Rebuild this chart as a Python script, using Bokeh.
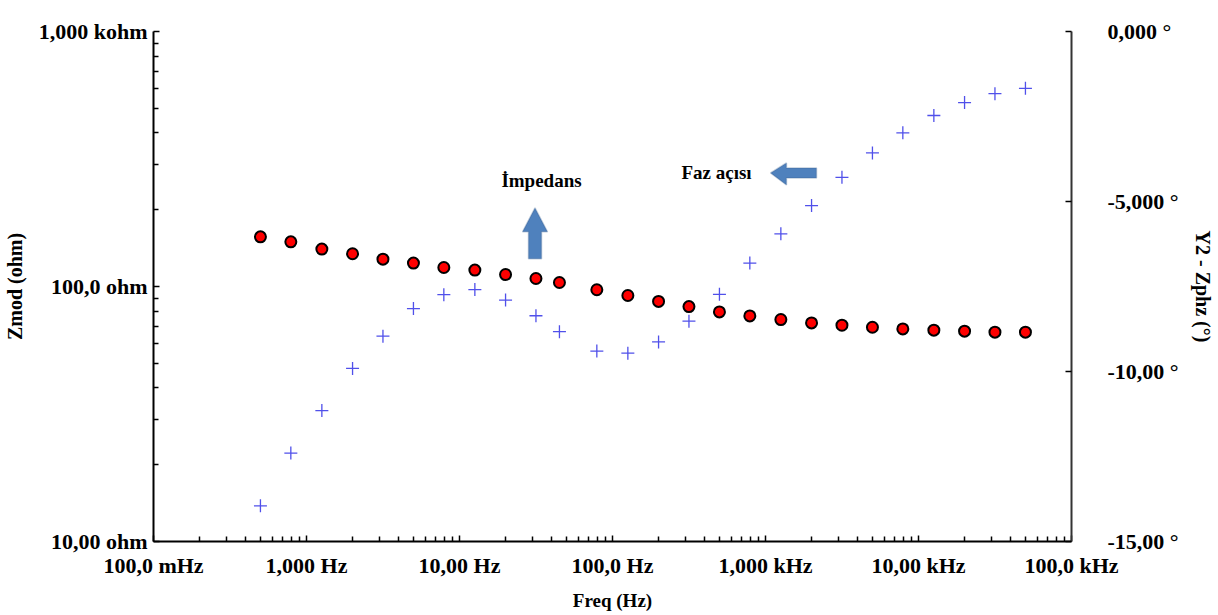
from bokeh.plotting import figure
from bokeh.models import (Range1d, LinearScale, LinearAxis, FixedTicker, Label,
                          PolyAnnotation)
from bokeh.embed import file_html
from bokeh.resources import INLINE

# ---------------- data ----------------
freq_hz = [0.5, 0.79, 1.26, 2.0, 3.16, 5.0, 7.9, 12.6, 20.0, 31.6, 45.0,
           79.0, 126.0, 200.0, 316.0, 500.0, 790.0, 1260.0, 2000.0, 3160.0,
           5000.0, 7900.0, 12600.0, 20000.0, 31600.0, 50000.0]
zmod_ohm = [156.6, 149.7, 140.2, 134.4, 128.0, 123.5, 118.7, 116.0, 111.4,
            107.5, 103.7, 97.1, 92.2, 87.4, 83.4, 79.5, 76.7, 74.2, 72.0,
            70.5, 69.2, 68.2, 67.4, 66.8, 66.2, 66.2]
zphz_deg = [-13.95, -12.40, -11.15, -9.91, -8.96, -8.15, -7.74, -7.59, -7.90,
            -8.36, -8.83, -9.40, -9.46, -9.13, -8.52, -7.73, -6.81, -5.95,
            -5.12, -4.29, -3.57, -2.98, -2.47, -2.09, -1.83, -1.67]

x_ticks = [0.1, 1.0, 10.0, 100.0, 1000.0, 10000.0, 100000.0]
x_tick_labels = ["100,0 mHz", "1,000 Hz", "10,00 Hz", "100,0 Hz",
                 "1,000 kHz", "10,00 kHz", "100,0 kHz"]
y_ticks = [10.0, 100.0, 1000.0]
y_tick_labels = ["10,00 ohm", "100,0 ohm", "1,000 kohm"]
y2_ticks = [-15.0, -10.0, -5.0, 0.0]
y2_tick_labels = ["-15,00 °", "-10,00 °", "-5,000 °", "0,000 °"]

x_minor = [m * d for d in x_ticks[:-1] for m in range(2, 10)]
y_minor = [m * d for d in y_ticks[:-1] for m in range(2, 10)]

FONT = "Liberation Serif"

p = figure(width=1216, height=613, x_axis_type="log", y_axis_type="log",
           x_range=Range1d(0.1, 100000.0), y_range=Range1d(10.0, 1000.0),
           output_backend="svg", toolbar_location=None,
           min_border_left=153, min_border_right=145,
           min_border_top=31, min_border_bottom=70)
p.outline_line_color = None
p.xgrid.visible = False
p.ygrid.visible = False
p.background_fill_color = "white"
p.border_fill_color = "white"

p.extra_y_ranges = {"phase": Range1d(-15.0, 0.0)}
p.extra_y_scales = {"phase": LinearScale()}


def style_axis(ax):
    ax.axis_line_color = "black"
    ax.axis_line_width = 2
    ax.major_tick_line_color = "black"
    ax.minor_tick_line_color = "black"
    ax.major_tick_line_width = 1.5
    ax.minor_tick_line_width = 1.5
    ax.major_tick_in = 6
    ax.major_tick_out = 0
    ax.minor_tick_in = 5
    ax.minor_tick_out = 0
    ax.major_label_text_font = FONT
    ax.major_label_text_font_style = "bold"
    ax.major_label_text_font_size = "22px"
    ax.major_label_text_color = "black"
    ax.axis_label_text_font = FONT
    ax.axis_label_text_font_style = "bold"
    ax.axis_label_text_color = "black"


# bottom axis
xa = p.xaxis[0]
style_axis(xa)
xa.ticker = FixedTicker(ticks=x_ticks, minor_ticks=x_minor)
xa.major_label_overrides = dict(zip(x_ticks, x_tick_labels))
xa.major_label_standoff = 11
xa.axis_label = "Freq (Hz)"
xa.axis_label_text_font_size = "19px"
xa.axis_label_standoff = 9

# left axis
ya = p.yaxis[0]
style_axis(ya)
ya.ticker = FixedTicker(ticks=y_ticks, minor_ticks=y_minor)
ya.major_label_overrides = dict(zip(y_ticks, y_tick_labels))
ya.major_label_standoff = 6
ya.axis_label = "Zmod (ohm)"
ya.axis_label_text_font_size = "20px"
ya.axis_label_standoff = 10

# right axis
ra = LinearAxis(y_range_name="phase")
style_axis(ra)
ra.axis_line_color = "#333333"
ra.ticker = FixedTicker(ticks=y2_ticks, minor_ticks=[])
ra.major_label_overrides = dict(zip(y2_ticks, y2_tick_labels))
ra.major_label_standoff = 36
ra.axis_label = "Y2 - Zphz (°)"
ra.axis_label_text_font_size = "20px"
ra.axis_label_standoff = 10
p.add_layout(ra, "right")

# data
p.scatter(freq_hz, zmod_ohm, marker="circle", size=11, fill_color="#ff0000",
          line_color="black", line_width=2)
p.scatter(freq_hz, zphz_deg, marker="cross", size=13, line_color="#5050ea",
          line_width=1.3, y_range_name="phase")

# annotations: block arrows
arrow_fill = "#4f81bd"
arrow_line = "#385d8a"
up_arrow = PolyAnnotation(
    xs=[28.25, 28.25, 25.82, 31.15, 37.6, 34.36, 34.36],
    ys=[128.4, 163.8, 163.8, 203.3, 163.8, 163.8, 128.4],
    fill_color=arrow_fill, fill_alpha=1.0, line_color=arrow_line, line_width=1.5)
left_arrow = PolyAnnotation(
    xs=[2154.0, 1371.0, 1371.0, 1079.0, 1371.0, 1371.0, 2154.0],
    ys=[291.7, 291.7, 305.2, 278.9, 250.1, 266.6, 266.6],
    fill_color=arrow_fill, fill_alpha=1.0, line_color=arrow_line, line_width=1.5)
p.add_layout(up_arrow)
p.add_layout(left_arrow)

for txt, fx, zy in [("İmpedans", 34.36, 259.4), ("Faz açısı", 478.6, 278.9)]:
    p.add_layout(Label(x=fx, y=zy, text=txt, text_font=FONT,
                       text_font_style="bold", text_font_size="19px",
                       text_align="center", text_baseline="middle",
                       text_color="black"))

open("out.html", "w").write(file_html(p, INLINE))
